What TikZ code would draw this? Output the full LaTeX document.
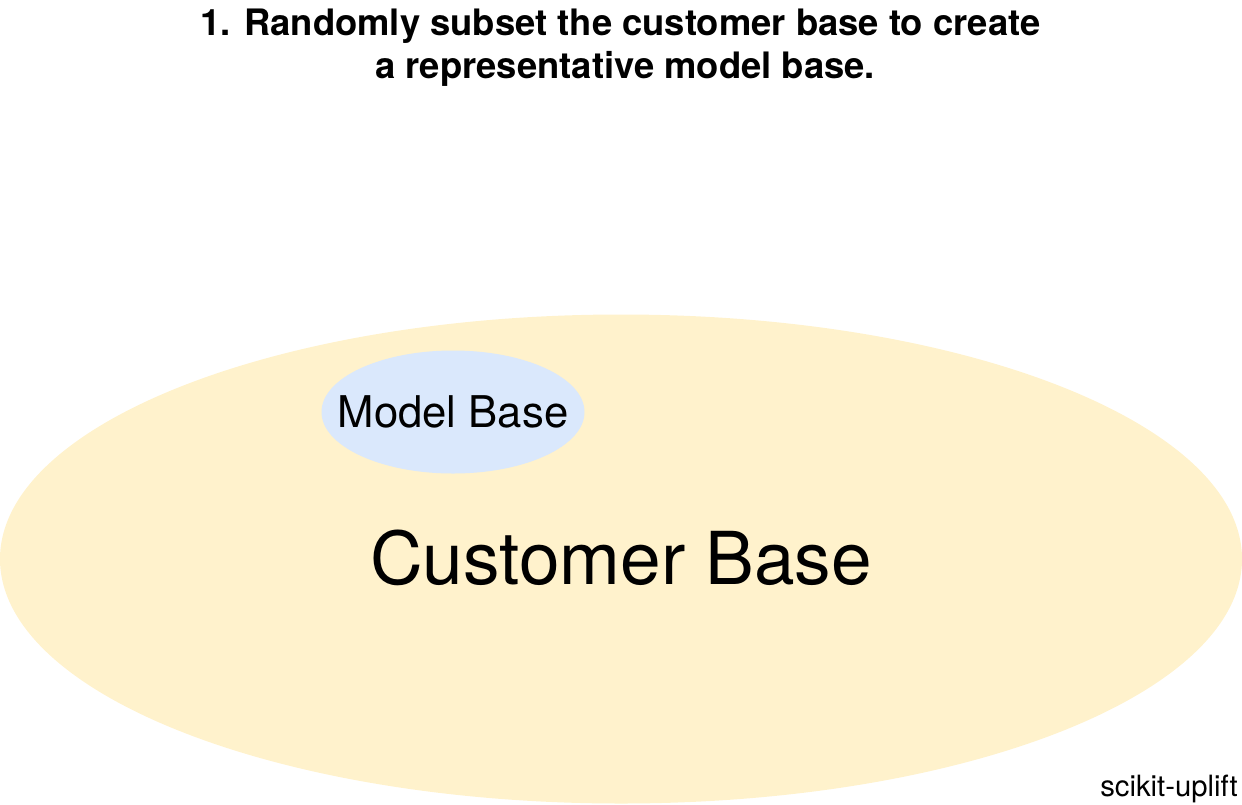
\documentclass[tikz,border=0pt]{standalone}
\usepackage{fontspec}
\setmainfont{TeX Gyre Heros}
\usetikzlibrary{shapes.geometric}
\definecolor{custfill}{HTML}{FFF2CC}
\definecolor{modelfill}{HTML}{DAE8FC}
\tikzset{blob/.style={ellipse,inner sep=0pt,outer sep=0pt,draw=none},
lbl/.style={inner sep=0pt,outer sep=0pt,text=black,anchor=base}}
\begin{document}
\begin{tikzpicture}[x=1pt,y=-1pt,line width=0pt]
\useasboundingbox (0,0) rectangle (1242,804);
\node[blob,fill=custfill,minimum width=1242pt,minimum height=489pt] (cust) at (621,559) {};
\node[blob,fill=modelfill,minimum width=263pt,minimum height=123pt] (model) at (453,412) {};
\node[lbl,font=\fontsize{43.7}{43.7}\selectfont] (ml) at (453,427) {Model Base};
\node[lbl,font=\fontsize{73}{73}\selectfont] (cl) at (621,584) {Customer Base};
\node[lbl,font=\bfseries\fontsize{36.4}{36.4}\selectfont] (t1) at (620.5,35) {1. Randomly subset the customer base to create};
\node[lbl,font=\bfseries\fontsize{36.4}{36.4}\selectfont] (t2) at (625,78.5) {a representative model base.};
\node[lbl,font=\fontsize{29.3}{29.3}\selectfont] (su) at (1169,796) {scikit-uplift};
\end{tikzpicture}
\end{document}
